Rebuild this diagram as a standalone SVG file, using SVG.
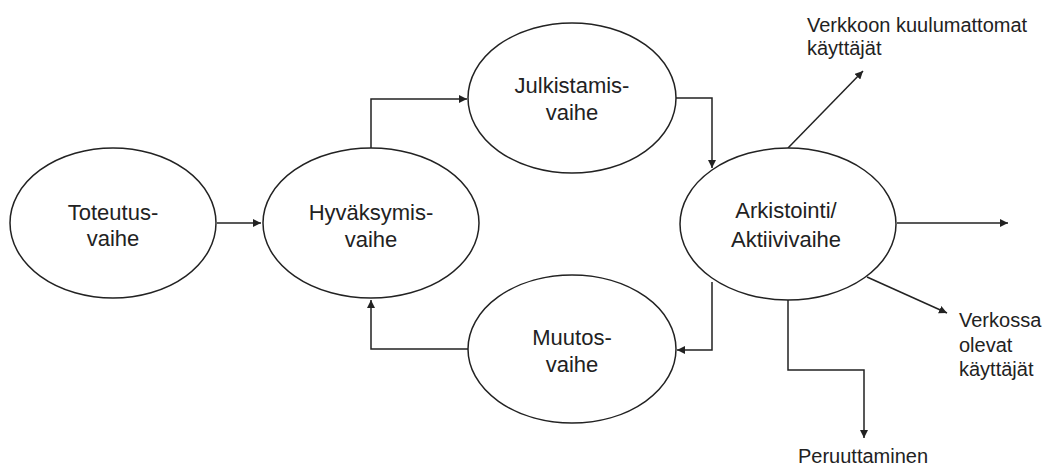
<svg xmlns="http://www.w3.org/2000/svg" width="1049" height="466" viewBox="0 0 1049 466">
<style>
.node ellipse{fill:#fff;stroke:#222;stroke-width:1.5}
.node text{font-family:"Liberation Sans",Arial,sans-serif;font-size:22px;fill:#222;text-anchor:middle}
.lbl{font-family:"Liberation Sans",Arial,sans-serif;font-size:20px;fill:#222}
#connectors path{fill:none;stroke:#222;stroke-width:1.5;marker-end:url(#arr)}
</style>
<defs>
<marker id="arr" viewBox="0 0 10 10" refX="10" refY="5" markerWidth="8" markerHeight="8" markerUnits="userSpaceOnUse" orient="auto">
<path d="M0,0 L10,5 L0,10 z" fill="#222"/>
</marker>
</defs>
<rect width="1049" height="466" fill="#fff"/>
<g id="connectors">
<path d="M217,223 H261"/>
<path d="M371,148 V99 H467"/>
<path d="M675,98 H712 V168"/>
<path d="M712,282 V350 H677"/>
<path d="M470,349 H371 V300"/>
<path d="M788,148 L863,71"/>
<path d="M897,223 H1008"/>
<path d="M867,277 L947,313"/>
<path d="M788,300 V370 H864 V438"/>
</g>
<g id="toteutus" class="node">
<ellipse cx="113" cy="223" rx="103" ry="75"/>
<text x="113" y="220">Toteutus-</text>
<text x="113" y="246">vaihe</text>
</g>
<g id="hyvaksymis" class="node">
<ellipse cx="371" cy="223" rx="108" ry="75"/>
<text x="371" y="220">Hyväksymis-</text>
<text x="371" y="247">vaihe</text>
</g>
<g id="julkistamis" class="node">
<ellipse cx="572" cy="98" rx="104" ry="75"/>
<text x="572" y="93">Julkistamis-</text>
<text x="572" y="120">vaihe</text>
</g>
<g id="muutos" class="node">
<ellipse cx="572" cy="349" rx="104" ry="74"/>
<text x="572" y="345">Muutos-</text>
<text x="572" y="372">vaihe</text>
</g>
<g id="arkistointi" class="node">
<ellipse cx="788" cy="224" rx="108" ry="76"/>
<text x="786" y="218">Arkistointi/</text>
<text x="786" y="247">Aktiivivaihe</text>
</g>
<g id="labels">
<text class="lbl" x="807" y="32">Verkkoon kuulumattomat</text>
<text class="lbl" x="807" y="55">käyttäjät</text>
<text class="lbl" x="959" y="327">Verkossa</text>
<text class="lbl" x="959" y="352">olevat</text>
<text class="lbl" x="959" y="376">käyttäjät</text>
<text class="lbl" x="863" y="463" text-anchor="middle">Peruuttaminen</text>
</g>
</svg>
